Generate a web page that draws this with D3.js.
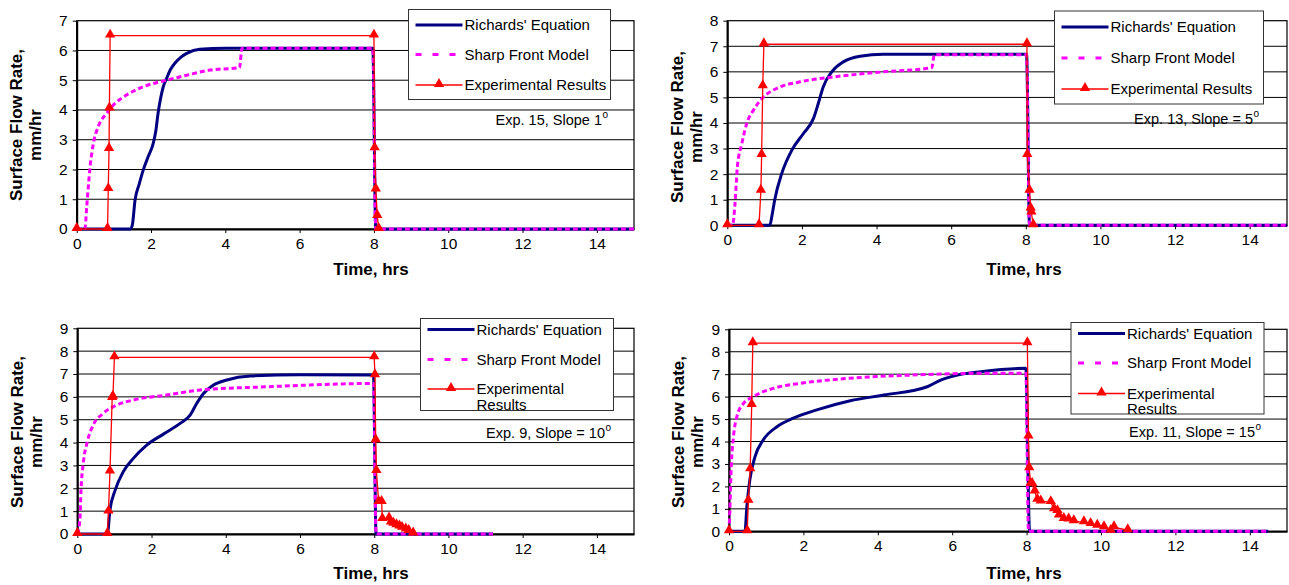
<!DOCTYPE html>
<html>
<head>
<meta charset="utf-8">
<script src="https://d3js.org/d3.v7.min.js"></script>
<style>
  body { margin: 0; background: #fff; }
  svg { display: block; font-family: 'Liberation Sans', Arial, sans-serif; }
</style>
</head>
<body>
<div id="chart"></div>
<script>
// values: [time (hrs), surface flow rate (mm/hr)]
var xTicks = [0, 2, 4, 6, 8, 10, 12, 14];
var seriesNames = ["Richards' Equation", "Sharp Front Model", "Experimental Results"];

// Exp. 15, slope 1
var richards15 = [[0,0],[1.45,0],[1.5,0.15],[1.57,0.97],[1.68,1.5],[1.79,1.98],[1.93,2.45],[2.06,2.88],[2.13,3.3],[2.19,3.89],[2.26,4.4],[2.33,4.78],[2.42,5.06],[2.52,5.35],[2.64,5.57],[2.8,5.77],[2.96,5.9],[3.31,6.04],[4,6.07],[7.97,6.07],[8.05,0],[15,0]];
var sharp15 = [[0,0],[0.22,0],[0.27,0.75],[0.36,2.09],[0.45,2.88],[0.58,3.44],[0.81,3.89],[1.03,4.22],[1.34,4.5],[1.79,4.78],[2.42,5.0],[3.0,5.18],[3.58,5.34],[4.38,5.42],[4.45,6.07],[7.97,6.07],[8.05,0],[15,0]];
var exper15 = [[0,0],[0.83,0],[0.85,1.34],[0.87,2.69],[0.88,4.05],[0.9,6.5],[8.0,6.5],[8.02,2.71],[8.05,1.33],[8.09,0.44],[8.13,0]];

// Exp. 13, slope 5
var richards13 = [[0,0],[1.14,0],[1.2,0.4],[1.27,0.99],[1.46,2.03],[1.73,2.94],[2.04,3.59],[2.31,4.18],[2.44,4.77],[2.57,5.41],[2.8,6.0],[3.11,6.39],[3.56,6.61],[4.18,6.69],[5,6.69],[8.02,6.69],[8.1,0],[15,0]];
var sharp13 = [[0,0],[0.14,0],[0.2,0.73],[0.27,2.29],[0.39,3.2],[0.52,3.98],[0.7,4.5],[0.97,5.02],[1.32,5.35],[1.95,5.61],[2.84,5.8],[4.18,6.0],[5.48,6.16],[5.55,6.67],[8.02,6.67],[8.1,0],[15,0]];
var exper13 = [[0,0],[0.85,0],[0.9,1.35],[0.92,2.75],[0.95,5.44],[0.98,7.08],[8.03,7.08],[8.04,2.75],[8.1,1.35],[8.13,0.66],[8.15,0.5],[8.2,0]];

// Exp. 9, slope 10
var richards9 = [[0,0],[0.81,0],[0.88,1.05],[1.02,1.92],[1.24,2.73],[1.51,3.31],[1.87,3.89],[2.32,4.37],[2.77,4.84],[3.04,5.2],[3.22,5.72],[3.4,6.15],[3.67,6.52],[4.03,6.74],[4.66,6.91],[6.0,6.97],[7.98,6.96],[8.05,0],[11.2,0]];
var sharp9 = [[0,0],[0.07,0.61],[0.1,1.92],[0.16,3.09],[0.27,4.04],[0.43,4.77],[0.7,5.28],[1.06,5.64],[1.51,5.86],[2.41,6.08],[3.31,6.3],[5.1,6.44],[6.81,6.55],[7.98,6.59],[8.05,0],[11.2,0]];
var exper9 = [[0,0],[0.81,0],[0.84,0.98],[0.88,2.73],[0.94,5.95],[0.96,6.0],[1.0,7.73],[8.0,7.73],[8.02,6.95],[8.04,4.1],[8.06,2.75],[8.12,1.4],[8.2,1.4],[8.22,0.65],[8.4,0.68],[8.45,0.5],[8.52,0.45],[8.6,0.38],[8.68,0.33],[8.75,0.27],[8.85,0.2],[8.93,0.13],[9.05,0.02]];

// Exp. 11, slope 15
var richards11 = [[0,0],[0.43,0],[0.48,1.1],[0.56,2.29],[0.7,3.33],[0.92,4.07],[1.29,4.66],[1.73,5.04],[2.36,5.41],[3.26,5.82],[4.16,6.07],[5.33,6.44],[5.69,6.74],[6.14,6.96],[6.77,7.11],[7.98,7.26],[8.08,0],[14.5,0]];
var sharp11 = [[0,0],[0.03,1.25],[0.05,2.43],[0.12,4.2],[0.21,5.1],[0.39,5.7],[0.65,6.0],[1.19,6.37],[1.91,6.59],[3.26,6.82],[5.06,6.97],[6.77,7.04],[7.98,7.04],[8.05,0],[14.5,0]];
var exper11 = [[0,0],[0.49,0],[0.52,1.36],[0.57,2.76],[0.61,5.63],[0.64,8.38],[8.02,8.38],[8.05,4.22],[8.07,2.81],[8.11,2.11],[8.15,2.11],[8.22,1.77],[8.29,1.4],[8.38,1.33],[8.65,1.3],[8.74,0.98],[8.83,0.9],[8.87,0.7],[9.0,0.55],[9.13,0.53],[9.27,0.45],[9.54,0.4],[9.72,0.32],[9.9,0.25],[10.08,0.18],[10.26,0.02],[10.35,0.18],[10.72,0.05]];

var panels = [
  { left: 76.7, right: 634, top: 20.7, bottom: 229, ymax: 7,
    richards: richards15, sharp: sharp15, exper: exper15,
    note: "Exp. 15, Slope 1", noteX: 602, noteY: 125, twoLineLegend: false,
    legend: { x: 408.5, y: 9.5, w: 202, h: 90, rows: [25, 54.5, 85] },
    xTitle: 371, titleY: 275, yTitleX: 22, yTitleY: 125 },
  { left: 727.3, right: 1287, top: 20.7, bottom: 225.3, ymax: 8,
    richards: richards13, sharp: sharp13, exper: exper13,
    note: "Exp. 13, Slope = 5", noteX: 1253, noteY: 124, twoLineLegend: false,
    legend: { x: 1054.5, y: 11, w: 209, h: 93, rows: [27, 58, 89] },
    xTitle: 1024, titleY: 275, yTitleX: 683, yTitleY: 127 },
  { left: 77.3, right: 634, top: 328.3, bottom: 534, ymax: 9,
    richards: richards9, sharp: sharp9, exper: exper9,
    note: "Exp. 9, Slope = 10", noteX: 605, noteY: 438, twoLineLegend: true,
    legend: { x: 420.5, y: 318.5, w: 193, h: 92, rows: [329.5, 359.5, 389, 404.5] },
    xTitle: 371, titleY: 579, yTitleX: 23, yTitleY: 432 },
  { left: 729, right: 1287, top: 329.3, bottom: 531.3, ymax: 9,
    richards: richards11, sharp: sharp11, exper: exper11,
    note: "Exp. 11, Slope = 15", noteX: 1255, noteY: 437, twoLineLegend: true,
    legend: { x: 1071, y: 322.5, w: 193, h: 91.5, rows: [333.5, 363, 393.5, 408.5] },
    xTitle: 1024, titleY: 579, yTitleX: 684, yTitleY: 432 }
];

var svg = d3.select("#chart").append("svg")
  .attr("width", 1289)
  .attr("height", 585);

var tri = d3.symbol().type(d3.symbolTriangle).size(46);

panels.forEach(function (p) {
  var x = d3.scaleLinear().domain([0, 15]).range([p.left, p.right]);
  var y = d3.scaleLinear().domain([0, p.ymax]).range([p.bottom, p.top]);
  var g = svg.append("g");

  // plot area and gridlines
  g.append("rect")
    .attr("x", p.left).attr("y", p.top)
    .attr("width", p.right - p.left).attr("height", p.bottom - p.top)
    .attr("fill", "#fff").attr("stroke", "#000").attr("stroke-width", 1.2);
  g.selectAll(".grid")
    .data(d3.range(1, p.ymax))
    .enter().append("line")
    .attr("x1", p.left).attr("x2", p.right)
    .attr("y1", function (d) { return y(d); })
    .attr("y2", function (d) { return y(d); })
    .attr("stroke", "#000").attr("stroke-width", 1);

  // axes
  var xa = g.append("g")
    .attr("transform", "translate(0," + p.bottom + ")")
    .call(d3.axisBottom(x).tickValues(xTicks).tickSize(4).tickSizeOuter(0).tickPadding(5));
  var ya = g.append("g")
    .attr("transform", "translate(" + p.left + ",0)")
    .call(d3.axisLeft(y).ticks(p.ymax).tickSize(4).tickSizeOuter(0).tickPadding(5));
  [xa, ya].forEach(function (a) {
    a.select(".domain").attr("stroke", "#000").attr("stroke-width", 2);
    a.selectAll(".tick line").attr("stroke", "#000");
    a.selectAll(".tick text").attr("fill", "#000")
      .style("font-size", "15.5px")
      .style("font-family", "'Liberation Sans', Arial, sans-serif");
  });

  // series
  var smooth = d3.line()
    .x(function (d) { return x(d[0]); })
    .y(function (d) { return y(d[1]); })
    .curve(d3.curveMonotoneX);
  var straight = d3.line()
    .x(function (d) { return x(d[0]); })
    .y(function (d) { return y(d[1]); });

  g.append("path").datum(p.richards)
    .attr("d", smooth)
    .attr("fill", "none").attr("stroke", "#000080").attr("stroke-width", 3);
  g.append("path").datum(p.sharp)
    .attr("d", smooth)
    .attr("fill", "none").attr("stroke", "#ff00ff").attr("stroke-width", 3)
    .attr("stroke-dasharray", "5,3");
  g.append("path").datum(p.exper)
    .attr("d", straight)
    .attr("fill", "none").attr("stroke", "#ff0000").attr("stroke-width", 1.3);
  g.selectAll(".mk")
    .data(p.exper)
    .enter().append("path")
    .attr("d", tri)
    .attr("transform", function (d) { return "translate(" + x(d[0]) + "," + (y(d[1]) - 1) + ")"; })
    .attr("fill", "#ff0000");

  // legend
  var L = p.legend;
  var lg = g.append("g");
  lg.append("rect")
    .attr("x", L.x).attr("y", L.y).attr("width", L.w).attr("height", L.h)
    .attr("fill", "#fff").attr("stroke", "#333").attr("stroke-width", 1);
  var lx1 = L.x + 7, lx2 = L.x + 54, tx = L.x + 56;
  lg.append("line").attr("x1", lx1).attr("x2", lx2).attr("y1", L.rows[0]).attr("y2", L.rows[0])
    .attr("stroke", "#000080").attr("stroke-width", 3);
  lg.append("line").attr("x1", lx1).attr("x2", lx2).attr("y1", L.rows[1]).attr("y2", L.rows[1])
    .attr("stroke", "#ff00ff").attr("stroke-width", 3).attr("stroke-dasharray", "6,11");
  lg.append("line").attr("x1", lx1).attr("x2", lx2).attr("y1", L.rows[2]).attr("y2", L.rows[2])
    .attr("stroke", "#ff0000").attr("stroke-width", 1.3);
  lg.append("path").attr("d", tri)
    .attr("transform", "translate(" + ((lx1 + lx2) / 2) + "," + (L.rows[2] - 1) + ")")
    .attr("fill", "#ff0000");
  var labels = p.twoLineLegend
    ? [seriesNames[0], seriesNames[1], "Experimental", "Results"]
    : seriesNames;
  lg.selectAll(".lt")
    .data(labels)
    .enter().append("text")
    .attr("x", tx)
    .attr("y", function (d, i) { return L.rows[i]; })
    .attr("dy", "0.35em")
    .style("font-size", "15px")
    .attr("fill", "#000")
    .text(function (d) { return d; });

  // note with superscript degree
  g.append("text")
    .attr("x", p.noteX).attr("y", p.noteY)
    .attr("text-anchor", "end")
    .style("font-size", "14.5px")
    .attr("fill", "#000")
    .text(p.note);
  g.append("text")
    .attr("x", p.noteX + 0.5).attr("y", p.noteY - 7)
    .style("font-size", "10px")
    .attr("fill", "#000")
    .text("o");

  // axis titles
  g.append("text")
    .attr("x", p.xTitle).attr("y", p.titleY)
    .attr("text-anchor", "middle")
    .style("font-size", "17px").style("font-weight", "bold")
    .text("Time, hrs");
  var yt = g.append("text")
    .attr("transform", "translate(" + p.yTitleX + "," + p.yTitleY + ") rotate(-90)")
    .attr("text-anchor", "middle")
    .style("font-size", "17px").style("font-weight", "bold");
  yt.append("tspan").attr("x", 0).attr("y", 0).text("Surface Flow Rate,");
  yt.append("tspan").attr("x", -10).attr("y", 19).text("mm/hr");
});
</script>
</body>
</html>
